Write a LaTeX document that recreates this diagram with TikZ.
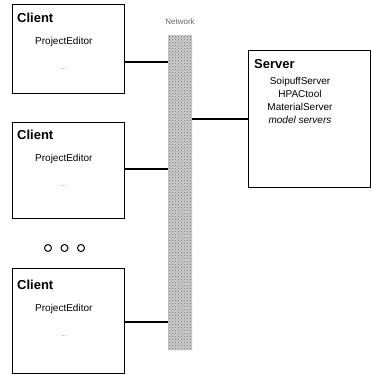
\documentclass[tikz,border=0pt]{standalone}
\usepackage{fontspec}
\setmainfont{Liberation Sans}
\usetikzlibrary{patterns,positioning}
\tikzset{
  box/.style={draw=black,line width=0.8pt,fill=white,inner sep=0pt,anchor=north west},
  title/.style={font=\fontsize{13}{13}\selectfont\bfseries,inner sep=0pt},
  entry/.style={font=\fontsize{10}{13}\selectfont,inner sep=0pt},
  more/.style={font=\fontsize{7}{7}\selectfont,text=gray,inner sep=0pt},
  netbar/.style={fill=gray!40,inner sep=0pt,anchor=north,
    postaction={pattern=crosshatch dots,pattern color=gray!90!black}},
  link/.style={line width=2pt},
  ring/.style={circle,draw=black,line width=1pt,minimum size=7pt,inner sep=0pt},
}
\begin{document}
\begin{tikzpicture}[x=1pt,y=-1pt]
\useasboundingbox (0,0) rectangle (371,377);
% network
\node[netbar,minimum width=24pt,minimum height=315pt] (net) at (180,35) {};
\node[font=\fontsize{8}{8}\selectfont,text=gray!80!black,inner sep=0pt] (netlbl) at (180,22) {Network};
% clients
\node[box,minimum width=112pt,minimum height=89pt] (c1) at (12,4) {};
\node[box,minimum width=112pt,minimum height=96pt] (c2) at (12,122) {};
\node[box,minimum width=112pt,minimum height=105pt] (c3) at (12,268) {};
\foreach \c/\t in {c1/9,c2/8,c3/12}{
  \node[title,below right=\t pt and 5pt of \c.north west] (\c t) {Client};
  \node[entry,below right=14pt and 18pt of \c t.south west] (\c e) {ProjectEditor};
  \node[more,below=22pt of \c e] (\c d) {...};
}
% more clients
\node[ring] (r1) at (48,248) {};
\node[ring,right=8.5pt of r1] (r2) {};
\node[ring,right=8.5pt of r2] (r3) {};
% server
\node[box,minimum width=122pt,minimum height=137pt] (srv) at (248,50) {};
\node[title,below right=9pt and 6pt of srv.north west] (srvt) {Server};
\node[entry,align=center,anchor=north] (srvl) at (300,77)
  {SoipuffServer\\HPACtool\\MaterialServer\\\itshape model servers};
% links
\path (c1.north east) ++(0,58) coordinate (t1);
\path (c2.north east) ++(0,47) coordinate (t2);
\path (c3.north east) ++(0,54) coordinate (t3);
\foreach \t in {t1,t2,t3}
  \draw[link] (\t) -- (\t -| net.west);
\draw[link] (srv.west) -- (srv.west -| net.east);
\end{tikzpicture}
\end{document}
